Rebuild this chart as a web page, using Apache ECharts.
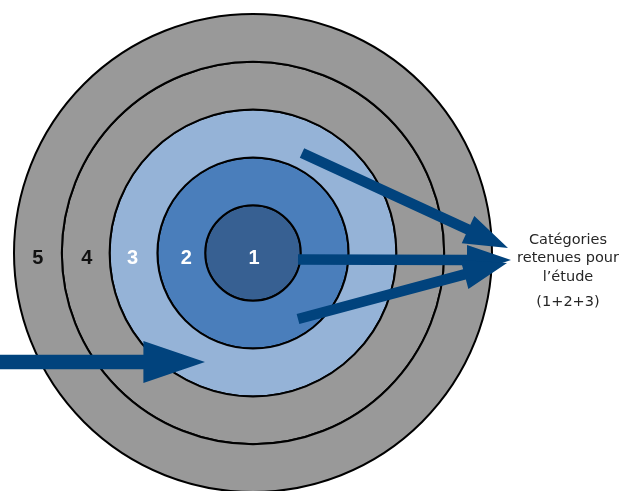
<!DOCTYPE html>
<html>
<head>
<meta charset="utf-8">
<script src="https://cdn.jsdelivr.net/npm/echarts@6/dist/echarts.min.js"></script>
<style>html,body{margin:0;padding:0;background:#fff}#c{width:620px;height:491px}</style>
</head>
<body>
<div id="c"></div>
<script>
// Ring categories (inner to outer) and their full-circle extent
const ringLabels = ['1', '2', '3', '4', '5'];
const ringExtent = [1, 1, 1, 1, 1];
// Arrows: start (x, y) -> tip (x, y), in page units
const arrowStartX = [298, 302, 298, 0];
const arrowStartY = [259.5, 153, 319, 362];
const arrowEndX = [511, 508, 507, 205];
const arrowEndY = [260, 248, 263, 362];
// Side text
const sideTextLines = ['Catégories', 'retenues pour', 'l’étude'];
const sideTextNote = '(1+2+3)';

const ringColors = ['#376092', '#4a7ebb', '#95b3d7', '#999999', '#999999'];
const ringLabelColors = ['#ffffff', '#ffffff', '#ffffff', '#111111', '#111111'];
const ringLabelOffsets = [[25, 5], [5, 5], [-1, 5], [1, 5], [0, 5]];
const arrowScale = [1, 1, 1, 1.4];
const arrowColor = '#01437d';

const chart = echarts.init(document.getElementById('c'), null, {renderer: 'canvas'});

const barData = ringExtent.map((v, i) => ({
  value: v,
  itemStyle: {color: ringColors[i]},
  label: {color: ringLabelColors[i], offset: ringLabelOffsets[i]}
}));

const arrowData = arrowStartX.map((x, i) => [x, arrowStartY[i], arrowEndX[i], arrowEndY[i], arrowScale[i]]);

function renderArrow(params, api) {
  const p1 = api.coord([api.value(0), api.value(1)]);
  const p2 = api.coord([api.value(2), api.value(3)]);
  const s = api.value(4);
  const dx = p2[0] - p1[0], dy = p2[1] - p1[1];
  const L = Math.hypot(dx, dy);
  const ux = dx / L, uy = dy / L;
  const nx = -uy, ny = ux;
  const sw = 10.5 * s / 2, hw = 15 * s, hl = 44 * s;
  const bx = p2[0] - ux * hl, by = p2[1] - uy * hl;
  const pts = [
    [p1[0] + nx * sw, p1[1] + ny * sw],
    [bx + nx * sw, by + ny * sw],
    [bx + nx * hw, by + ny * hw],
    [p2[0], p2[1]],
    [bx - nx * hw, by - ny * hw],
    [bx - nx * sw, by - ny * sw],
    [p1[0] - nx * sw, p1[1] - ny * sw]
  ];
  return {type: 'polygon', shape: {points: pts}, style: {fill: arrowColor}};
}

const lineH = 18.5;
const sideFont = '14.5px "DejaVu Sans"';
const graphics = sideTextLines.map((t, i) => ({
  type: 'text',
  x: 568, y: 240 + i * lineH,
  style: {text: t, textAlign: 'center', textVerticalAlign: 'middle',
          font: sideFont, fill: '#262626'},
  z: 10
}));
graphics.push({
  type: 'text', x: 568, y: 302,
  style: {text: sideTextNote, textAlign: 'center', textVerticalAlign: 'middle',
          font: sideFont, fill: '#262626'},
  z: 10
});

chart.setOption({
  animation: false,
  backgroundColor: '#ffffff',
  polar: {center: [253, 253], radius: 239},
  radiusAxis: {type: 'category', data: ringLabels, show: false,
               axisLine: {show: false}, axisTick: {show: false}, axisLabel: {show: false}, splitLine: {show: false}},
  angleAxis: {type: 'value', min: 0, max: 1, startAngle: 0, show: false,
              axisLine: {show: false}, axisTick: {show: false}, axisLabel: {show: false}, splitLine: {show: false}},
  grid: {left: 0, right: 0, top: 0, bottom: 0},
  xAxis: {type: 'value', min: 0, max: 620, show: false},
  yAxis: {type: 'value', min: 0, max: 491, inverse: true, show: false},
  series: [
    {
      type: 'bar',
      coordinateSystem: 'polar',
      data: barData,
      barCategoryGap: '0%',
      itemStyle: {borderColor: '#000000', borderWidth: 2},
      label: {show: true, position: 'middle', rotate: 0, formatter: p => ringLabels[p.dataIndex],
              fontFamily: '"Liberation Sans", Arial, sans-serif', fontWeight: 'bold', fontSize: 20},
      z: 2
    },
    {
      type: 'custom',
      coordinateSystem: 'cartesian2d',
      data: arrowData,
      renderItem: renderArrow,
      clip: false,
      z: 5
    }
  ],
  graphic: graphics
});
</script>
</body>
</html>
